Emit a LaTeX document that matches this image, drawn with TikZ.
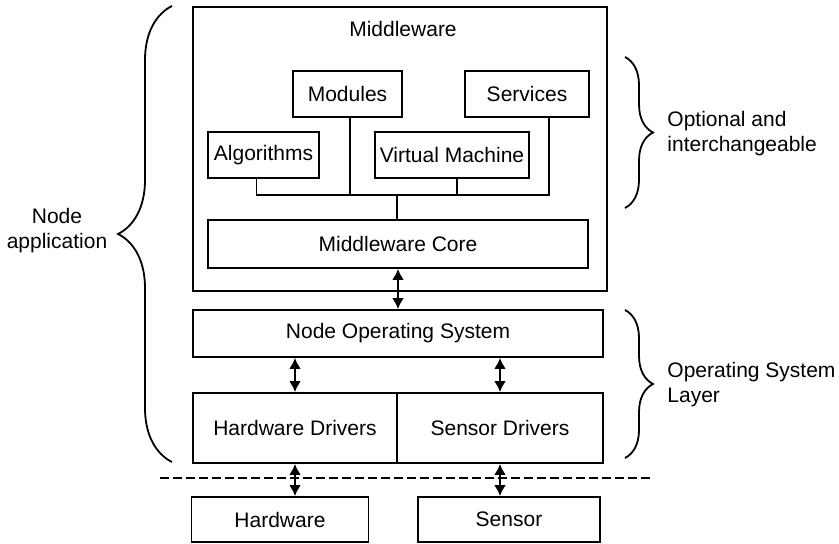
\documentclass[tikz,border=0pt]{standalone}
\usepackage{fontspec}
\setmainfont{Liberation Sans}
\usetikzlibrary{arrows.meta,decorations.pathreplacing}
\tikzstyle{block}=[draw,line width=0.9pt,inner sep=0pt,minimum height=23pt]
\tikzstyle{Tlabel}=[inner sep=0pt,align=left]
\tikzstyle{link}=[line width=0.9pt]
\tikzstyle{biarrow}=[line width=1.4pt,{Latex[length=5.5pt,width=6pt]}-{Latex[length=5.5pt,width=6pt]}]
\tikzstyle{cut}=[line width=1.4pt,dash pattern=on 4.5pt off 2pt]
\tikzstyle{brace}=[decorate,line width=0.9pt]
\newcommand{\pxunit}{0.5pt}

\begin{document}
\begin{tikzpicture}[x=\pxunit,y=-\pxunit,font=\fontsize{10.5}{12.5}\selectfont]
\useasboundingbox (0,0) rectangle (839,544);
% middleware
    \node[block,minimum width=207pt,minimum height=142pt] (mw) at (400,149) {};
    \node (mwtitle) at (403,29) {Middleware};
    \node[block,minimum width=54.5pt] (mod) at (347.5,94)  {Modules};
    \node[block,minimum width=62pt]   (svc) at (527,94)    {Services};
    \node[block,minimum width=55.5pt] (alg) at (263.5,155) {Algorithms};
    \node[block,minimum width=77pt]   (vm)  at (452,155)   {Virtual Machine};
    \node[block,minimum width=190pt,minimum height=24pt] (core) at (398,244) {Middleware Core};
    \coordinate (bus) at (397,195);
	 \draw[link] (alg.south) ++(-7,0) |- (bus);
	 \draw[link] (mod.south) ++(2.5,0) |- (bus);
	 \draw[link] (vm.south)  ++(5,0)  |- (bus);
	 \draw[link] (svc.south) ++(22,0) |- (bus);
	 \draw[link] (bus) -- (bus |- core.north);
% operating system layer
    \node[block,minimum width=205pt,minimum height=23.5pt] (nos) at (398,333.5) {Node Operating System};
    \node[block,minimum width=102pt,minimum height=35pt] (hwd) at (295,428) {Hardware Drivers};
    \node[block,minimum width=103pt,minimum height=35pt] (sd)  at (500,428) {Sensor Drivers};
	 \draw[biarrow] (core.south) -- (nos.north);
	 \draw[biarrow] (hwd.north) -- (hwd.north |- nos.south);
	 \draw[biarrow] (sd.north)  -- (sd.north |- nos.south);
% devices
    \node[block,minimum width=88.5pt,minimum height=22.5pt] (hw)  at (280,519.5) {Hardware};
    \node[block,minimum width=91pt,minimum height=22.5pt]   (sen) at (509,519.5) {Sensor};
    \coordinate (cutL) at (160,478);
    \coordinate (cutR) at (650,478);
	 \draw[cut] (cutL) -- (cutR);
	 \draw[biarrow] (hwd.south) -- (hwd.south |- hw.north);
	 \draw[biarrow] (sd.south)  -- (sd.south |- sen.north);
% braces
    \coordinate (appT) at (172,6);
    \coordinate (appB) at (172,462);
    \coordinate (optT) at (625,57);
    \coordinate (optB) at (625,208);
    \coordinate (osT)  at (625,310);
    \coordinate (osB)  at (625,458);
	 \draw[brace,decoration={brace,amplitude=27pt}] (appB) -- (appT);
	 \draw[brace,decoration={brace,amplitude=14pt}] (optT) -- (optB);
	 \draw[brace,decoration={brace,amplitude=14pt}] (osT) -- (osB);
    \node[Tlabel,align=center] (napp) at (57,231) {Node\\application};
    \node[Tlabel,anchor=west] (opt) at (667,134) {Optional and\\interchangeable};
    \node[Tlabel,anchor=west] (osl) at (667,385) {Operating System\\Layer};
\end{tikzpicture}
\end{document}
